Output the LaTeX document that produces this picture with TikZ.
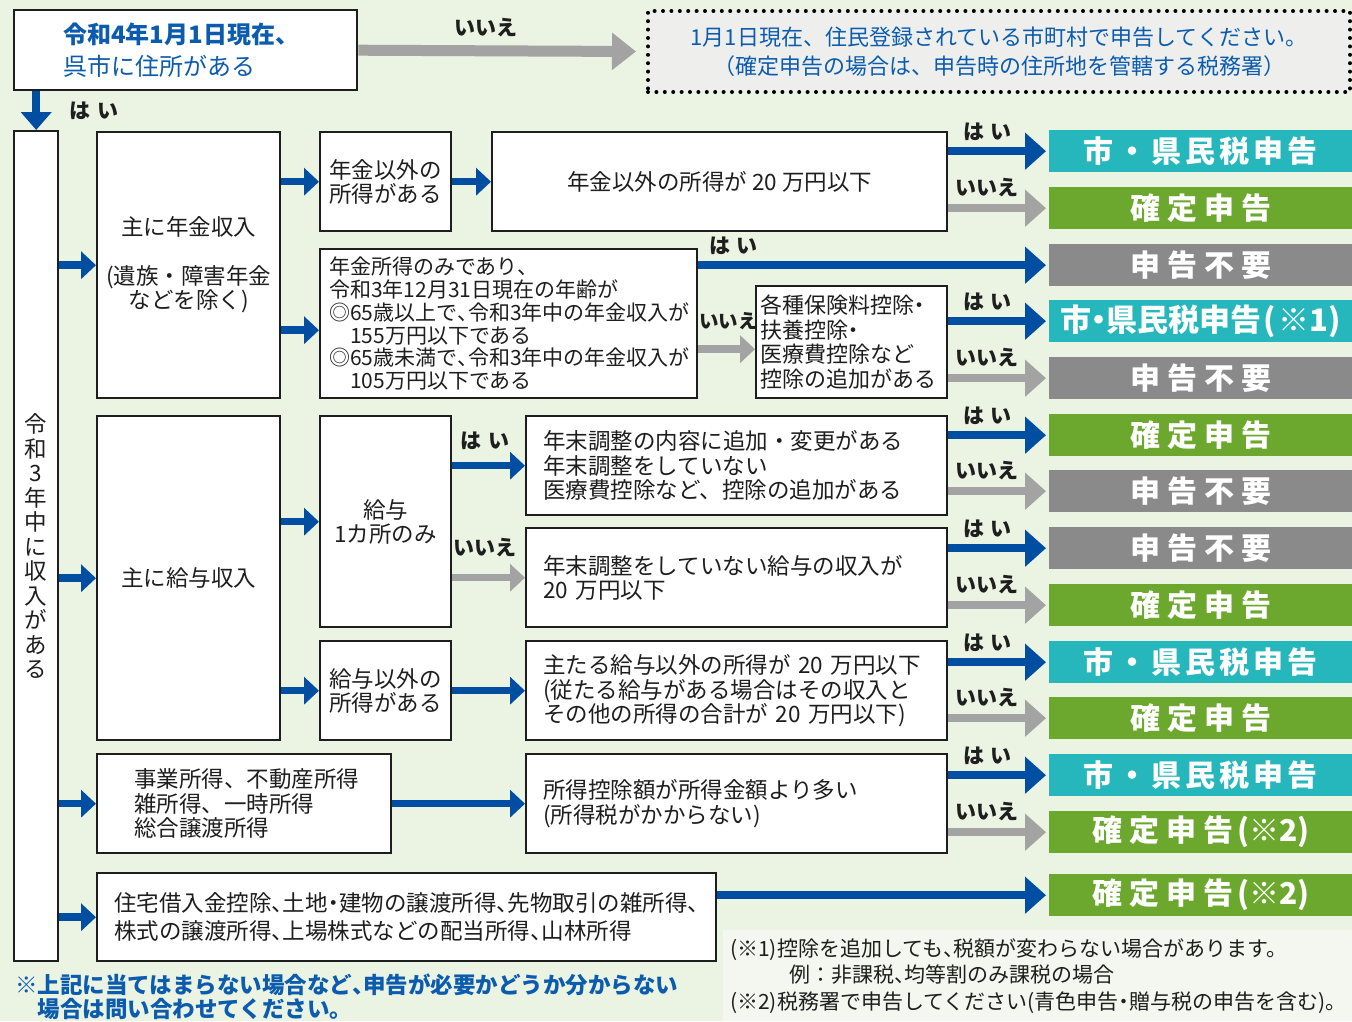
\documentclass[tikz,border=0pt]{standalone}
\usepackage{fontspec}
\setmainfont{Noto Sans CJK JP}
\usetikzlibrary{arrows.meta}
\definecolor{bg}{HTML}{EBF3E2}
\definecolor{ablue}{HTML}{004EA2}
\definecolor{agray}{HTML}{A3A3A3}
\definecolor{rteal}{HTML}{26B7BC}
\definecolor{rgreen}{HTML}{6DA82E}
\definecolor{rgray}{HTML}{8A8A8A}
\definecolor{tblue}{HTML}{0B5BAE}
\definecolor{ink}{HTML}{1E1E1E}
\definecolor{dotfill}{HTML}{EEEFEC}
\definecolor{notefill}{HTML}{F4F7EF}
\newcommand\hc{\hbox to .5em{、\hss}}
\newcommand\hd{\hbox to .5em{\hss・\hss}}
\newcommand\hai{は\hspace{.3em}い}
\begin{document}
\begin{tikzpicture}[x=1pt,y=-1pt,
  box/.style={draw=ink, line width=2.4pt, fill=white, text=ink, inner sep=0pt, anchor=north west, font=\fontsize{22.5}{24.5}\selectfont},
  cbox/.style={box, align=center},
  lbox/.style={box, align=left},
  res/.style={anchor=north west, minimum width=303, minimum height=42, inner sep=0pt, text=white, font=\bfseries\fontsize{30}{30}\selectfont},
  teal/.style={res, fill=rteal},
  green/.style={res, fill=rgreen},
  grayr/.style={res, fill=rgray},
  ba/.style={draw=ablue, line width=7.5pt, -{Triangle[width=27pt,length=15pt]}},
  ga/.style={draw=agray, line width=7.5pt, -{Triangle[width=27pt,length=15pt]}},
  rba/.style={draw=ablue, line width=7.5pt, -{Triangle[width=36pt,length=21pt]}},
  rga/.style={draw=agray, line width=7.5pt, -{Triangle[width=36pt,length=21pt]}},
  lab/.style={font=\bfseries\fontsize{21}{21}\selectfont, text=ink, inner sep=0pt},
]
\useasboundingbox (0,0) rectangle (1352,1021);
\fill[bg] (0,0) rectangle (1352,1021);

% top row
\node[lbox, text=tblue, font=\fontsize{24}{32}\selectfont, inner xsep=49pt, text width=245pt, minimum height=80] (top) at (13,9) {{\bfseries 令和4年1月1日現在、}\\呉市に住所がある};
\node[anchor=north west, draw=black, fill=dotfill, line width=4pt, dash pattern=on 0pt off 8.4pt, line cap=round, minimum width=702, minimum height=81, inner sep=0pt, align=center, text=tblue, font=\fontsize{22}{29}\selectfont] (addr) at (646,9) {1月1日現在、住民登録されている市町村で申告してください。\\（確定申告の場合は、申告時の住所地を管轄する税務署）};

% tall box
\node[cbox, minimum width=44, minimum height=830] (all) at (13,130) {令\\和\\3\\年\\中\\に\\収\\入\\が\\あ\\る};

% pension group
\node[cbox, minimum width=183, minimum height=266] (p1) at (96,131) {主に年金収入\\[24pt](遺族・障害年金\\などを除く)};
\node[cbox, minimum width=131, minimum height=99] (p2) at (319,131) {年金以外の\\所得がある};
\node[cbox, minimum width=455, minimum height=99] (p3) at (491,131) {年金以外の所得が 20 万円以下};
\node[lbox, font=\fontsize{21}{22.8}\selectfont, inner xsep=9pt, text width=359pt, minimum height=149] (p4) at (319,248) {年金所得のみであり、\\令和3年12月31日現在の年齢が\\◎65歳以上で\hc 令和3年中の年金収入が\\\hspace*{1em}155万円以下である\\◎65歳未満で\hc 令和3年中の年金収入が\\\hspace*{1em}105万円以下である};
\node[lbox, font=\fontsize{22}{24.7}\selectfont, inner xsep=4pt, text width=183pt, minimum height=112] (p5) at (755,285) {各種保険料控除\hd\\扶養控除\hd\\医療費控除など\\控除の追加がある};

% salary group
\node[cbox, minimum width=183, minimum height=324] (s1) at (96,415) {主に給与収入};
\node[cbox, minimum width=131, minimum height=211] (s2) at (319,415) {給与\\1カ所のみ};
\node[lbox, inner xsep=17pt, text width=387pt, minimum height=99] (s3) at (525,415) {年末調整の内容に追加・変更がある\\年末調整をしていない\\医療費控除など、控除の追加がある};
\node[lbox, inner xsep=17pt, text width=387pt, minimum height=99] (s4) at (525,527) {年末調整をしていない給与の収入が\\20 万円以下};
\node[cbox, minimum width=131, minimum height=99] (s5) at (319,640) {給与以外の\\所得がある};
\node[lbox, inner xsep=17pt, text width=387pt, minimum height=99] (s6) at (525,640) {主たる給与以外の所得が 20 万円以下\\(従たる給与がある場合はその収入と\\その他の所得の合計が 20 万円以下)};

% business group
\node[lbox, inner xsep=37pt, text width=220pt, minimum height=99] (b1) at (96,753) {事業所得、不動産所得\\雑所得、一時所得\\総合譲渡所得};
\node[lbox, inner xsep=17pt, text width=387pt, minimum height=99] (b2) at (525,753) {所得控除額が所得金額より多い\\(所得税がかからない)};
\node[lbox, font=\fontsize{22.5}{28}\selectfont, inner xsep=17pt, text width=585pt, minimum height=88] (h1) at (96,872) {住宅借入金控除\hc 土地\hd 建物の譲渡所得\hc 先物取引の雑所得\hc\\株式の譲渡所得\hc 上場株式などの配当所得\hc 山林所得};

% results
\node[teal] (r1) at (1049,130) {市\kern4pt・\kern4pt県\kern4pt民\kern4pt税\kern4pt申\kern4pt告};
\node[green] (r2) at (1049,187) {確\kern7pt 定\kern7pt 申\kern7pt 告};
\node[grayr] (r3) at (1049,244) {申\kern7pt 告\kern7pt 不\kern7pt 要};
\node[teal, font=\bfseries\fontsize{31}{31}\selectfont] (r4) at (1049,300) {市\hd 県民税申告\kern2pt(\kern2pt※1\kern1pt)};
\node[grayr] (r5) at (1049,357) {申\kern7pt 告\kern7pt 不\kern7pt 要};
\node[green] (r6) at (1049,414) {確\kern7pt 定\kern7pt 申\kern7pt 告};
\node[grayr] (r7) at (1049,470) {申\kern7pt 告\kern7pt 不\kern7pt 要};
\node[grayr] (r8) at (1049,527) {申\kern7pt 告\kern7pt 不\kern7pt 要};
\node[green] (r9) at (1049,584) {確\kern7pt 定\kern7pt 申\kern7pt 告};
\node[teal] (r10) at (1049,641) {市\kern4pt・\kern4pt県\kern4pt民\kern4pt税\kern4pt申\kern4pt告};
\node[green] (r11) at (1049,697) {確\kern7pt 定\kern7pt 申\kern7pt 告};
\node[teal] (r12) at (1049,754) {市\kern4pt・\kern4pt県\kern4pt民\kern4pt税\kern4pt申\kern4pt告};
\node[green] (r13) at (1049,811) {確\kern7pt 定\kern7pt 申\kern7pt 告\kern4pt(※2)};
\node[green] (r14) at (1049,874) {確\kern7pt 定\kern7pt 申\kern7pt 告\kern4pt(※2)};

% notes
\node[anchor=west, inner sep=0pt, align=left, text=tblue, font=\bfseries\fontsize{22.5}{24}\selectfont] (fn) at (15,997) {※上記に当てはまらない場合など\hc 申告が必要かどうか分からない\\\hspace*{1em}場合は問い合わせてください。};
\node[anchor=north west, fill=notefill, minimum height=91, inner xsep=7pt, inner ysep=0pt, text width=615pt, align=left, text=ink, font=\fontsize{21}{26.5}\selectfont] (nb) at (723,930) {(※1)控除を追加しても\hc 税額が変わらない場合があります。\\\hspace*{2.8em}例：非課税\hc 均等割のみ課税の場合\\(※2)税務署で申告してください(青色申告\hd 贈与税の申告を含む)。};

% connectors
\draw[ga, line width=11pt, -{Triangle[width=36pt,length=24pt]}] (top.east) -- node[lab, pos=.46, above=8pt] {いいえ} ([xshift=-10pt]addr.west);
\draw[ba, -{Triangle[width=30pt,length=18pt]}] (all.north |- top.south) -- node[lab, pos=.5, anchor=west, xshift=30pt] {\hai} (all.north);

\draw[ba] (all.east |- p1) -- (p1.west);
\draw[ba] (all.east |- s1) -- (s1.west);
\draw[ba] (all.east |- b1) -- (b1.west);
\draw[ba] (all.east |- h1) -- (h1.west);

\coordinate (p4in) at ([yshift=-6.5pt]p4.west);
\coordinate (p5in) at ([yshift=-7pt]p5.west);
\draw[ba] (p1.east |- p2) -- (p2.west);
\draw[ba] (p1.east |- p4in) -- (p4in);
\draw[ba] (p2.east) -- (p3.west);
\draw[rba] (p4.east |- r3) -- node[lab, pos=0, anchor=south west, xshift=7pt, yshift=6.5pt] {\hai} ([xshift=-3pt]r3.west);
\draw[ga] (p4.east |- p5in) -- node[lab, font=\bfseries\fontsize{19.5}{19.5}\selectfont, pos=.5, above=16pt, xshift=2pt] {いいえ} (p5in);

\draw[rba] (p3.east |- r1) -- node[lab, pos=.4, above=7pt] {\hai} ([xshift=-3pt]r1.west);
\draw[rga] (p3.east |- r2) -- node[lab, pos=.4, above=8pt] {いいえ} ([xshift=-3pt]r2.west);
\draw[rba] (p5.east |- r4) -- node[lab, pos=.4, above=7pt] {\hai} ([xshift=-3pt]r4.west);
\draw[rga] (p5.east |- r5) -- node[lab, pos=.4, above=8pt] {いいえ} ([xshift=-3pt]r5.west);

\draw[ba] (s1.east |- s2) -- (s2.west);
\draw[ba] (s1.east |- s5) -- (s5.west);
\draw[ba] (s2.east |- s3) -- node[lab, pos=.45, above=12pt] {\hai} (s3.west);
\draw[ga] (s2.east |- s4) -- node[lab, pos=.45, above=17pt] {いいえ} (s4.west);
\draw[ba] (s5.east) -- (s6.west);

\draw[rba] (s3.east |- r6) -- node[lab, pos=.4, above=7pt] {\hai} ([xshift=-3pt]r6.west);
\draw[rga] (s3.east |- r7) -- node[lab, pos=.4, above=8pt] {いいえ} ([xshift=-3pt]r7.west);
\draw[rba] (s4.east |- r8) -- node[lab, pos=.4, above=7pt] {\hai} ([xshift=-3pt]r8.west);
\draw[rga] (s4.east |- r9) -- node[lab, pos=.4, above=8pt] {いいえ} ([xshift=-3pt]r9.west);
\draw[rba] (s6.east |- r10) -- node[lab, pos=.4, above=7pt] {\hai} ([xshift=-3pt]r10.west);
\draw[rga] (s6.east |- r11) -- node[lab, pos=.4, above=8pt] {いいえ} ([xshift=-3pt]r11.west);

\draw[ba] (b1.east) -- (b2.west);
\draw[rba] (b2.east |- r12) -- node[lab, pos=.4, above=7pt] {\hai} ([xshift=-3pt]r12.west);
\draw[rga] (b2.east |- r13) -- node[lab, pos=.4, above=8pt] {いいえ} ([xshift=-3pt]r13.west);
\draw[rba] (h1.east |- r14) -- ([xshift=-3pt]r14.west);
\end{tikzpicture}
\end{document}
